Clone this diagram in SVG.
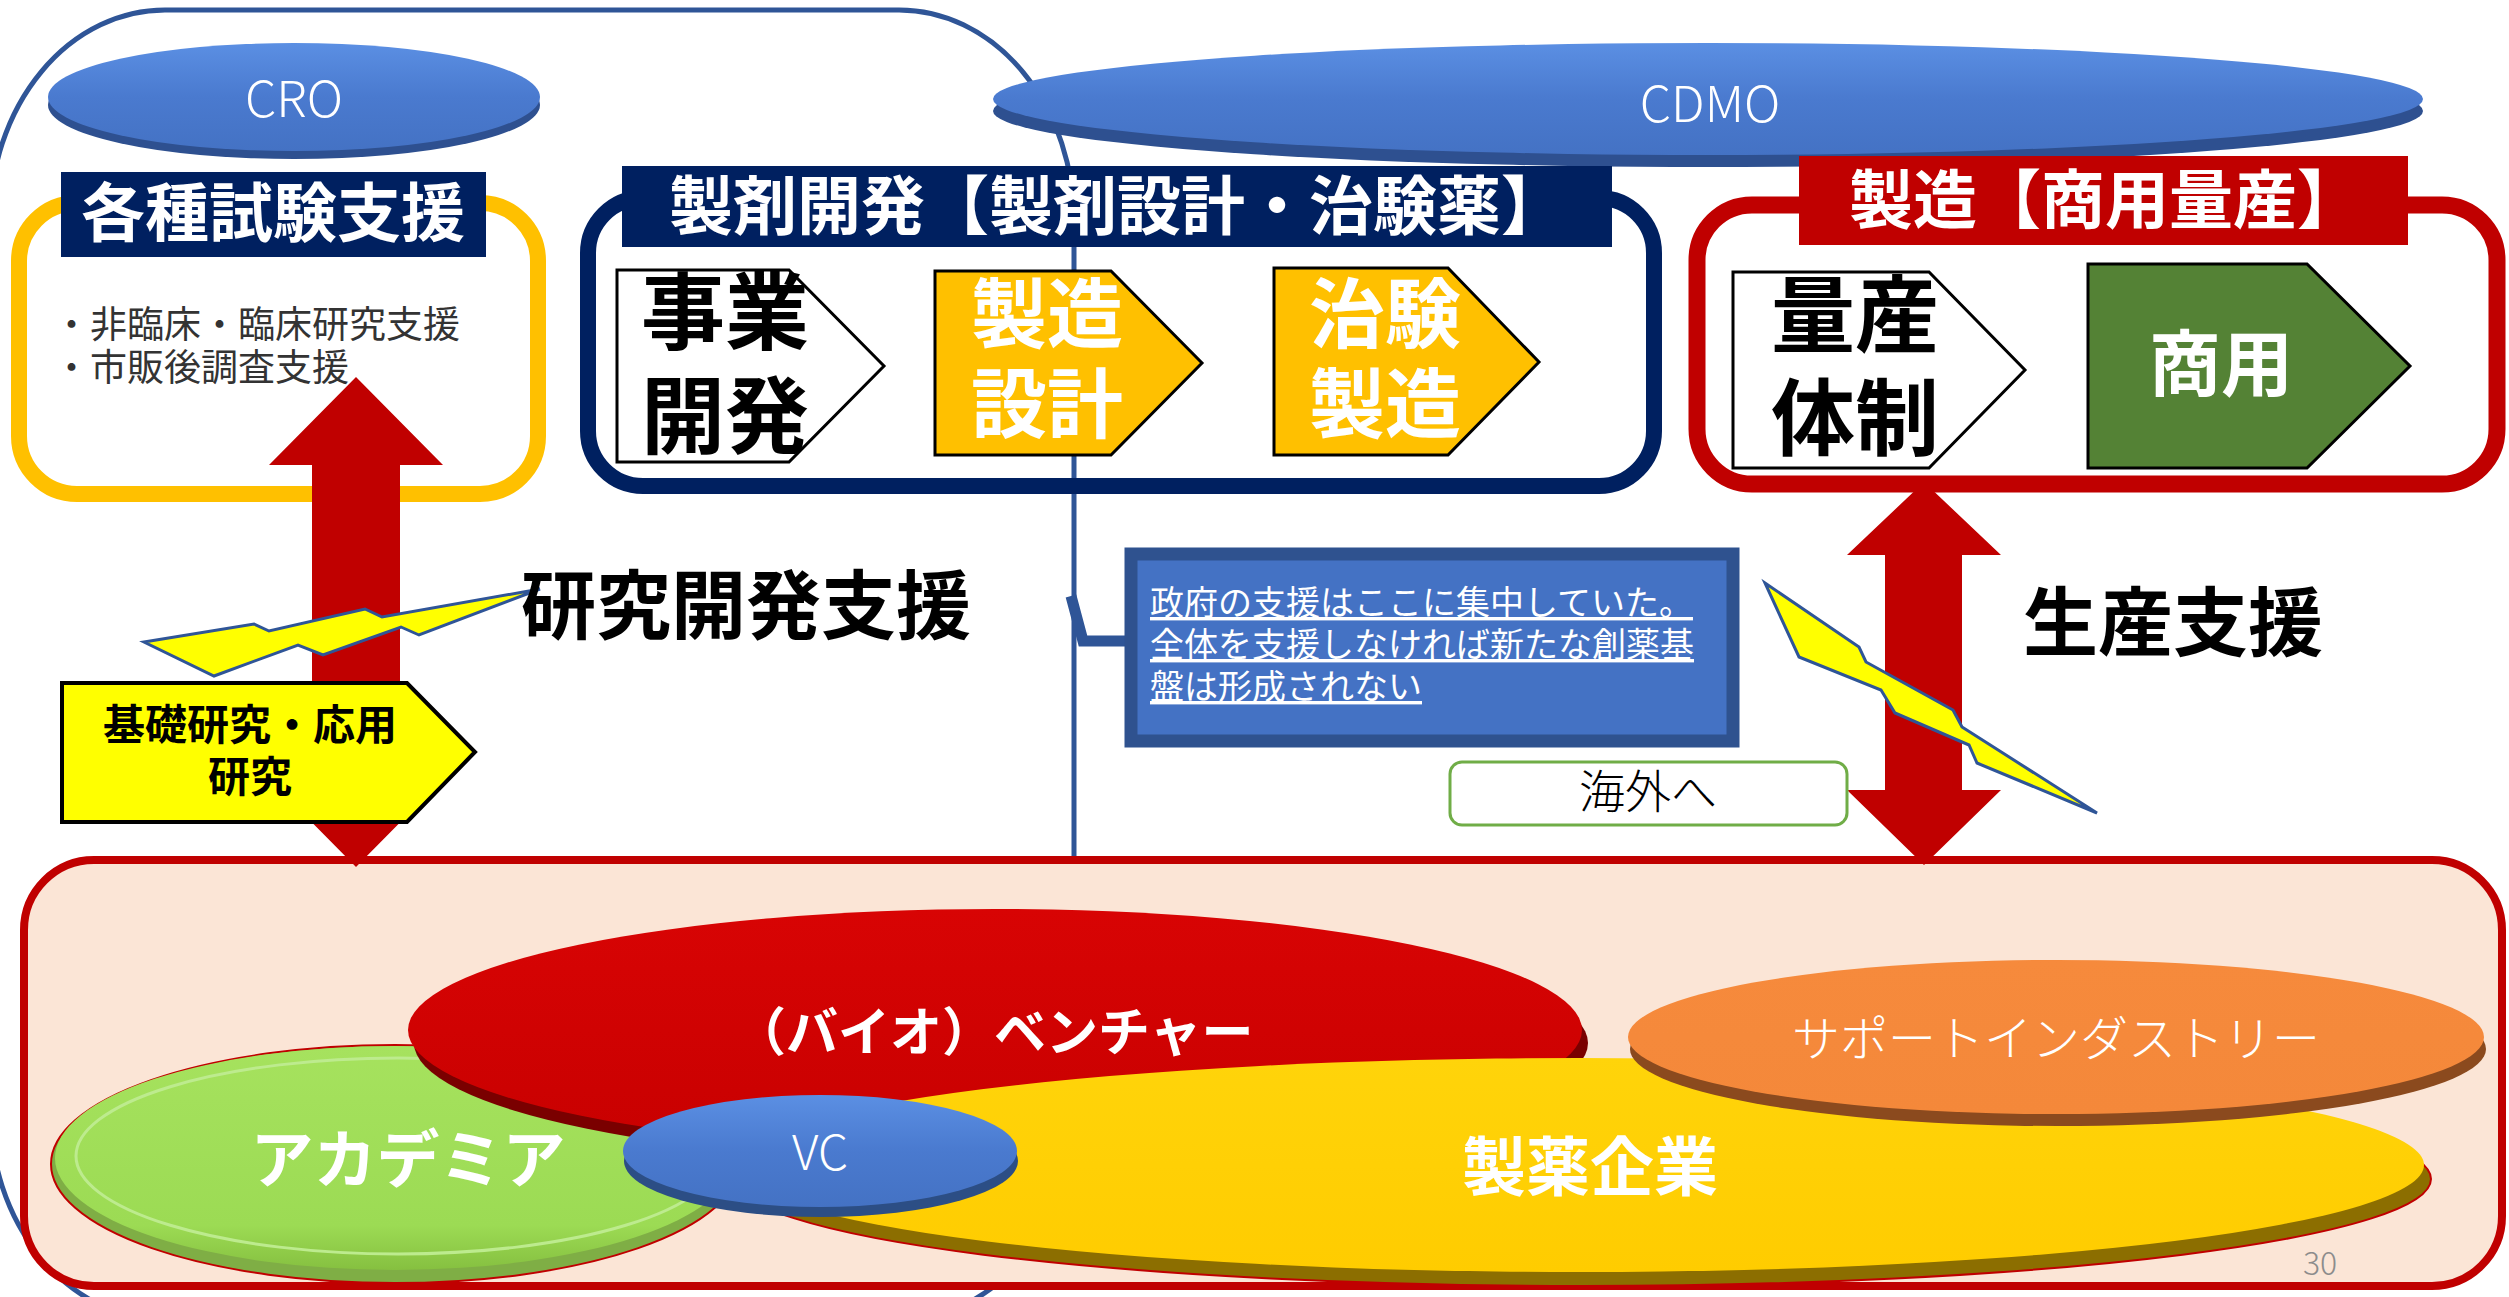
<svg xmlns="http://www.w3.org/2000/svg" width="2509" height="1297" viewBox="0 0 2509 1297">
<defs>
<style>
.jp{font-family:"Noto Sans CJK JP","Noto Sans",sans-serif;}
.b{font-weight:700;}
.l{font-weight:300;}
.w{fill:#FFFFFF;}
.k{fill:#000000;}
.mid{text-anchor:middle;}
.penta{stroke:#000000;stroke-width:3;}
.bolt{fill:#FFFF00;stroke:#2F5597;stroke-width:3;stroke-linejoin:miter;}
.arrow{fill:#C00000;}
</style>
<linearGradient id="gBlue" x1="0" y1="0" x2="0" y2="1">
<stop offset="0" stop-color="#5B8FE3"/><stop offset="0.5" stop-color="#4A7ACF"/><stop offset="1" stop-color="#4472C4"/>
</linearGradient>
<linearGradient id="gRed" x1="0" y1="0" x2="0" y2="1">
<stop offset="0" stop-color="#D80404"/><stop offset="1" stop-color="#C80000"/>
</linearGradient>
<linearGradient id="gYel" x1="0" y1="0" x2="0" y2="1">
<stop offset="0" stop-color="#FFD40A"/><stop offset="1" stop-color="#FFCC00"/>
</linearGradient>
<linearGradient id="gOrg" x1="0" y1="0" x2="0" y2="1">
<stop offset="0" stop-color="#F68A3C"/><stop offset="1" stop-color="#F4883A"/>
</linearGradient>
<linearGradient id="gGrn" x1="0" y1="0" x2="0" y2="1">
<stop offset="0" stop-color="#A6E25E"/><stop offset="0.8" stop-color="#9CDB54"/><stop offset="1" stop-color="#86C040"/>
</linearGradient>
</defs>

<!-- large blue outline -->
<rect x="-10" y="10" width="1084" height="1310" rx="175" ry="211" fill="none" stroke="#2F5597" stroke-width="5"/>

<!-- bottom area -->
<g id="ecosystem">
<rect x="24" y="860" width="2478" height="426" rx="70" ry="70" fill="#FBE5D6" stroke="#C00000" stroke-width="8"/>
</g>

<g id="academia">
<ellipse cx="395" cy="1164" rx="344" ry="119" fill="#7FAE45" stroke="#C00000" stroke-width="2"/>
<ellipse cx="395" cy="1158" rx="340" ry="112" fill="url(#gGrn)"/>
<ellipse cx="398" cy="1156" rx="322" ry="98" fill="none" stroke="#BDEB8E" stroke-width="3"/>
<text class="jp b w mid" x="408" y="1182" font-size="63">アカデミア</text>
</g>

<g id="venture">
<ellipse cx="1001" cy="1043" rx="587" ry="121" fill="#7A0000"/>
<ellipse cx="995" cy="1030" rx="587" ry="121" fill="url(#gRed)"/>
<text class="jp b w" x="734" y="1051" font-size="52">（バイオ）ベンチャー</text>
</g>

<g id="pharma">
<ellipse cx="1583" cy="1179" rx="848" ry="107" fill="#8C6E00" stroke="#C00000" stroke-width="2"/>
<ellipse cx="1579" cy="1165" rx="845" ry="107" fill="url(#gYel)"/>
<text class="jp b w mid" x="1590" y="1190" font-size="64">製薬企業</text>
</g>

<g id="support">
<ellipse cx="2058" cy="1049" rx="428" ry="77" fill="#8B4A1E"/>
<ellipse cx="2056" cy="1037" rx="428" ry="77" fill="url(#gOrg)"/>
<text class="jp l w mid" x="2056" y="1056" font-size="48">サポートインダストリー</text>
</g>

<g id="vc">
<ellipse cx="821" cy="1161" rx="197" ry="56" fill="#2C4E85"/>
<ellipse cx="820" cy="1151" rx="197" ry="56" fill="url(#gBlue)"/>
<text class="jp l w mid" x="820" y="1170" font-size="48">VC</text>
</g>

<text class="jp" x="2320" y="1275" font-size="32" fill="#8C8C8C" text-anchor="middle" font-weight="300">30</text>

<!-- CDMO -->
<g id="cdmo">
<ellipse cx="1708" cy="111" rx="715" ry="56" fill="#2E5090"/>
<ellipse cx="1708" cy="99" rx="715" ry="56" fill="url(#gBlue)"/>
<text class="jp l w mid" x="1710" y="122" font-size="50">CDMO</text>
</g>

<!-- CRO -->
<g id="cro">
<ellipse cx="294" cy="105" rx="246" ry="54" fill="#2E5090"/>
<ellipse cx="294" cy="97" rx="246" ry="54" fill="url(#gBlue)"/>
<text class="jp l w mid" x="294" y="117" font-size="50">CRO</text>
</g>

<!-- CRO support box -->
<g id="testing-support">
<rect x="19" y="203" width="519" height="291" rx="58" ry="58" fill="none" stroke="#FFC000" stroke-width="16"/>
<rect x="61" y="172" width="425" height="85" fill="#002060"/>
<text class="jp b w mid" x="273" y="236" font-size="64">各種試験支援</text>
</g>

<!-- formulation development box -->
<g id="formulation">
<rect x="588" y="198" width="1066" height="288" rx="55" ry="55" fill="none" stroke="#002060" stroke-width="16"/>
<rect x="622" y="166" width="990" height="81" fill="#002060"/>
<text class="jp b w" x="669" y="229" font-size="64">製剤開発【製剤設計・治験薬】</text>
</g>

<g id="biz-dev">
<polygon class="penta" points="617,270 789,270 884,366 789,462 617,462" fill="#FFFFFF"/>
<text class="jp b k mid" font-size="84"><tspan x="725" y="343">事業</tspan><tspan x="725" y="447">開発</tspan></text>
</g>

<g id="mfg-design">
<polygon class="penta" points="935,271 1111,271 1202,363 1111,455 935,455" fill="#FFC000"/>
<text class="jp b w mid" font-size="76"><tspan x="1047" y="342">製造</tspan><tspan x="1047" y="432">設計</tspan></text>
</g>

<g id="trial-mfg">
<polygon class="penta" points="1274,268 1448,268 1539,362 1448,455 1274,455" fill="#FFC000"/>
<text class="jp b w mid" font-size="76"><tspan x="1385" y="342">治験</tspan><tspan x="1385" y="432">製造</tspan></text>
</g>

<!-- production support arrow (behind red box) -->
<g id="connectors">
<polygon class="arrow" points="1924,482 2001,555 1962,555 1962,790 2001,790 1924,865 1847,790 1885,790 1885,555 1847,555"/>
</g>

<!-- manufacturing box -->
<g id="manufacturing">
<rect x="1697" y="205" width="800" height="279" rx="55" ry="55" fill="none" stroke="#C00000" stroke-width="17"/>
<rect x="1799" y="156" width="609" height="89" fill="#C00000"/>
<text class="jp b w" x="1849" y="223" font-size="64">製造【商用量産】</text>
</g>

<g id="mass-prod">
<polygon class="penta" points="1733,272 1929,272 2025,370 1929,468 1733,468" fill="#FFFFFF"/>
<text class="jp b k mid" font-size="84"><tspan x="1855" y="346">量産</tspan><tspan x="1855" y="449">体制</tspan></text>
</g>

<g id="commercial">
<polygon class="penta" points="2088,264 2307,264 2410,366 2307,468 2088,468" fill="#548235"/>
<text class="jp b w mid" x="2221" y="390" font-size="72">商用</text>
</g>

<!-- R&D support arrow -->
<g id="rd-arrow">
<polygon class="arrow" points="356,377 443,465 400,465 400,779 443,779 356,867 269,779 312,779 312,465 269,465"/>
</g>

<g id="testing-items">
<text class="jp" font-size="37" fill="#333333"><tspan x="53" y="338">・非臨床・臨床研究支援</tspan><tspan x="53" y="381">・市販後調査支援</tspan></text>
</g>

<g id="basic-research">
<polygon points="62,683 407,683 475,752 407,822 62,822" fill="#FFFF00" stroke="#000000" stroke-width="4"/>
<text class="jp b k mid" font-size="42"><tspan x="250" y="740">基礎研究・応用</tspan><tspan x="250" y="792">研究</tspan></text>
</g>

<g id="bolt-left">
<polygon class="bolt" points="144,642 254,624 269,631 365,609 382,617 540,589 419,635 401,627 323,655 298,645 214,676"/>
</g>

<g id="rd-support">
<text class="jp b k mid" x="746" y="633" font-size="75">研究開発支援</text>
</g>

<g id="callout">
<polyline points="1071,596 1083,641 1128,641" fill="none" stroke="#2F5597" stroke-width="11"/>
<rect x="1131" y="554" width="602" height="187" fill="#4472C4" stroke="#2F528F" stroke-width="13"/>
<text class="jp w" font-size="34" text-decoration="underline"><tspan x="1150" y="615">政府の支援はここに集中していた。</tspan><tspan x="1150" y="657">全体を支援しなければ新たな創薬基</tspan><tspan x="1150" y="699">盤は形成されない</tspan></text>
</g>

<g id="bolt-right">
<polygon class="bolt" points="1765,583 1859,647 1866,662 1953,710 1962,727 2097,813 1977,763 1969,745 1895,713 1881,690 1799,657"/>
</g>

<g id="overseas">
<rect x="1450" y="762" width="397" height="63" rx="12" ry="12" fill="#FFFFFF" stroke="#70AD47" stroke-width="3"/>
<text class="jp l k mid" x="1648" y="808" font-size="46">海外へ</text>
</g>

<g id="prod-support">
<text class="jp b k mid" x="2173" y="650" font-size="75">生産支援</text>
</g>
</svg>
